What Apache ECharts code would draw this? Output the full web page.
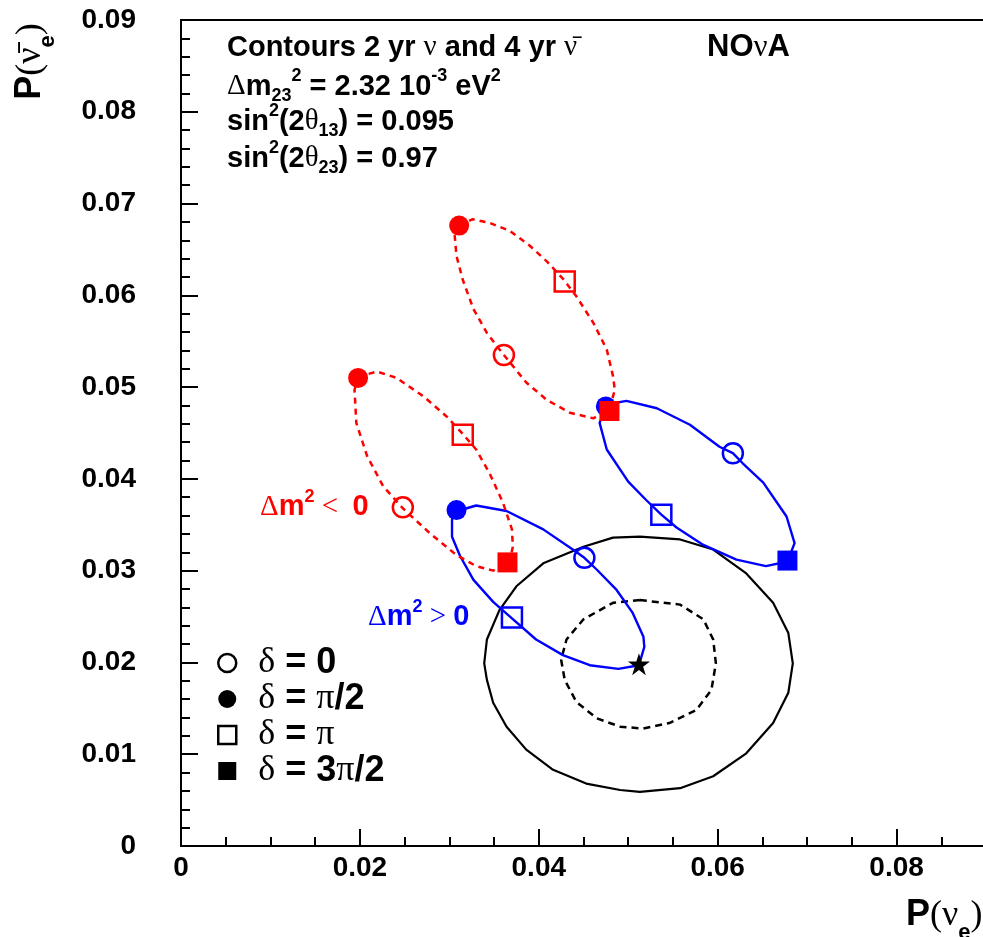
<!DOCTYPE html>
<html>
<head>
<meta charset="utf-8">
<script src="https://cdn.jsdelivr.net/npm/echarts@6.0.0/dist/echarts.min.js"></script>
<style>
  html, body { margin: 0; padding: 0; background: #fff; }
  #chart { width: 983px; height: 937px; }
</style>
</head>
<body>
<div id="chart"></div>
<script>
// closed loops (delta running 0 -> 2pi)
var redUpperX = [0.0311, 0.0326, 0.0345, 0.0368, 0.0390, 0.0409, 0.0428, 0.0442, 0.0461, 0.0476, 0.0483, 0.0485, 0.0479, 0.0461, 0.0435, 0.0409, 0.0386, 0.0361, 0.0342, 0.0327, 0.0315, 0.0308, 0.0306, 0.0311];
var redUpperY = [0.0676, 0.0683, 0.0679, 0.0670, 0.0654, 0.0637, 0.0617, 0.0599, 0.0570, 0.0541, 0.0512, 0.0497, 0.0476, 0.0466, 0.0472, 0.0486, 0.0505, 0.0535, 0.0559, 0.0585, 0.0617, 0.0643, 0.0665, 0.0676];

var redLowerX = [0.0198, 0.0219, 0.0241, 0.0271, 0.0297, 0.0315, 0.0330, 0.0345, 0.0360, 0.0370, 0.0371, 0.0367, 0.0349, 0.0330, 0.0308, 0.0278, 0.0248, 0.0226, 0.0208, 0.0196, 0.0194, 0.0198];
var redLowerY = [0.0511, 0.0517, 0.0510, 0.0490, 0.0468, 0.0449, 0.0432, 0.0406, 0.0374, 0.0345, 0.0326, 0.0308, 0.0300, 0.0305, 0.0317, 0.0341, 0.0368, 0.0392, 0.0425, 0.0461, 0.0497, 0.0511];

var blueUpperX = [0.0476, 0.0498, 0.0532, 0.0569, 0.0602, 0.0617, 0.0628, 0.0651, 0.0677, 0.0686, 0.0678, 0.0654, 0.0621, 0.0584, 0.0554, 0.0537, 0.0520, 0.0500, 0.0476, 0.0468, 0.0476];
var blueUpperY = [0.0481, 0.0485, 0.0477, 0.0459, 0.0435, 0.0428, 0.0417, 0.0396, 0.0359, 0.0330, 0.0310, 0.0305, 0.0312, 0.0328, 0.0347, 0.0361, 0.0377, 0.0397, 0.0432, 0.0461, 0.0481];

var blueLowerX = [0.0309, 0.0330, 0.0364, 0.0405, 0.0438, 0.0451, 0.0465, 0.0487, 0.0505, 0.0517, 0.0518, 0.0512, 0.0489, 0.0457, 0.0427, 0.0397, 0.0370, 0.0349, 0.0327, 0.0312, 0.0303, 0.0303, 0.0309];
var blueLowerY = [0.0365, 0.0371, 0.0365, 0.0345, 0.0323, 0.0314, 0.0301, 0.0279, 0.0254, 0.0228, 0.0217, 0.0197, 0.0193, 0.0197, 0.0208, 0.0225, 0.0248, 0.0266, 0.0290, 0.0316, 0.0337, 0.0356, 0.0365];

// sensitivity contours around the best fit point
var solidX = [0.0513, 0.0558, 0.0595, 0.0632, 0.0662, 0.0679, 0.0684, 0.0679, 0.0662, 0.0632, 0.0595, 0.0558, 0.0513, 0.0491, 0.0453, 0.0416, 0.0386, 0.0364, 0.0349, 0.0342, 0.0339, 0.0342, 0.0356, 0.0375, 0.0405, 0.0450, 0.0483, 0.0513];
var solidY = [0.0337, 0.0334, 0.0323, 0.0297, 0.0265, 0.0232, 0.0199, 0.0167, 0.0134, 0.0101, 0.0076, 0.0063, 0.0059, 0.0061, 0.0068, 0.0083, 0.0105, 0.0130, 0.0156, 0.0181, 0.0199, 0.0225, 0.0257, 0.0283, 0.0308, 0.0326, 0.0336, 0.0337];
var dashX = [0.0513, 0.0558, 0.0584, 0.0595, 0.0598, 0.0593, 0.0576, 0.0546, 0.0517, 0.0491, 0.0465, 0.0442, 0.0429, 0.0425, 0.0431, 0.0450, 0.0483, 0.0513];
var dashY = [0.0268, 0.0263, 0.0247, 0.0225, 0.0199, 0.0170, 0.0148, 0.0134, 0.0128, 0.0130, 0.0139, 0.0157, 0.0181, 0.0203, 0.0225, 0.0247, 0.0265, 0.0268];

// marker points, order: delta = 0, pi/2, pi, 3pi/2
var redUpperMX = [0.0361, 0.0311, 0.0429, 0.0479];
var redUpperMY = [0.0535, 0.0676, 0.0615, 0.0474];
var redLowerMX = [0.0248, 0.0198, 0.0315, 0.0365];
var redLowerMY = [0.0369, 0.0510, 0.0448, 0.0309];
var blueUpperMX = [0.0617, 0.0475, 0.0537, 0.0678];
var blueUpperMY = [0.0428, 0.0479, 0.0361, 0.0311];
var blueLowerMX = [0.0451, 0.0308, 0.0370];
var blueLowerMY = [0.0314, 0.0366, 0.0249];
var bestFit = [0.0512, 0.0198];

var deltaNames = ['δ = 0', 'δ = π/2', 'δ = π', 'δ = 3π/2'];
var deltaSymbols = ['circle', 'circle', 'rect', 'rect'];
var deltaFilled = [false, true, false, true];

var RED = '#ff0000', BLUE = '#0000ff';
var SANS = '"Liberation Sans", Arial, sans-serif';
var SERIF = '"Liberation Serif", "Times New Roman", serif';
var STAR = 'path://M50,0 L62,36 L100,36 L69,58 L81,95 L50,72 L19,95 L31,58 L0,36 L38,36 Z';

function rich(size, color, lh, subH, supH) {
  var small = Math.round(size * 0.62);
  return {
    b: { fontFamily: SANS, fontWeight: 'bold', fontSize: size, color: color, fill: color, lineHeight: lh },
    g: { fontFamily: SERIF, fontWeight: 'normal', fontSize: size, color: color, fill: color, lineHeight: lh },
    sup: { fontFamily: SANS, fontWeight: 'bold', fontSize: small, color: color, fill: color, lineHeight: supH, verticalAlign: 'top' },
    sub: { fontFamily: SANS, fontWeight: 'bold', fontSize: small, color: color, fill: color, lineHeight: subH, verticalAlign: 'bottom' },
    sp: { width: 17, fontSize: size, lineHeight: lh }
  };
}

function text(x, y, str, r, rot, align) {
  return {
    type: 'text', x: x, y: y, rotation: rot || 0, z: 100, silent: true,
    style: { text: str, rich: r, align: align || 'left', verticalAlign: 'middle' }
  };
}

function loop(xs, ys, color, width, dash) {
  return {
    type: 'line', data: xs.map(function (x, i) { return [x, ys[i]]; }),
    showSymbol: false, symbol: 'none', silent: true, z: 2,
    lineStyle: { color: color, width: width, type: dash || 'solid', opacity: 1 }
  };
}

function marks(xs, ys, color) {
  return {
    type: 'scatter', symbolSize: 20, silent: true, z: 5,
    data: xs.map(function (x, i) {
      return {
        value: [x, ys[i]],
        symbol: deltaSymbols[i],
        itemStyle: deltaFilled[i] ? { color: color, opacity: 1 } :
          { color: 'rgba(0,0,0,0)', borderColor: color, borderWidth: 2.5, opacity: 1 }
      };
    })
  };
}

var tickLine = { color: '#000', width: 2 };
var txt = rich(29, '#000', 38, 11, 17);
var axTitle = rich(36, '#000', 56, 6, 22);

var myChart = echarts.init(document.getElementById('chart'));
var option = {
  animation: false,
  backgroundColor: '#fff',
  grid: {
    left: 181, top: 20, right: -3, bottom: 91,
    show: true, borderColor: '#000', borderWidth: 2,
    containLabel: false, outerBoundsMode: 'none'
  },
  xAxis: [{
    type: 'value', min: 0, max: 0.09, interval: 0.02, position: 'bottom',
    axisLine: { show: true, onZero: false, lineStyle: tickLine },
    axisTick: { show: true, inside: true, length: 17, lineStyle: tickLine },
    axisLabel: { show: true, showMaxLabel: false, margin: 8, color: '#000', fontFamily: SANS, fontWeight: 'bold', fontSize: 28 },
    splitLine: { show: false }
  }, {
    type: 'value', min: 0, max: 0.09, interval: 0.005, position: 'bottom',
    axisLine: { show: false },
    axisTick: { show: true, inside: true, length: 9, lineStyle: tickLine },
    axisLabel: { show: false },
    splitLine: { show: false }
  }],
  yAxis: {
    type: 'value', min: 0, max: 0.09, interval: 0.01,
    axisLine: { show: true, onZero: false, lineStyle: tickLine },
    axisTick: { show: true, inside: true, length: 17, lineStyle: tickLine },
    minorTick: { show: true, splitNumber: 5, length: 9, lineStyle: tickLine },
    axisLabel: { margin: 45, color: '#000', fontFamily: SANS, fontWeight: 'bold', fontSize: 28 },
    splitLine: { show: false }
  },
  legend: {
    left: 217, top: 645, orient: 'vertical', padding: 0,
    itemWidth: 18, itemHeight: 18, itemGap: 0, selectedMode: false,
    data: deltaNames.map(function (n, i) {
      return {
        name: n, icon: deltaSymbols[i],
        itemStyle: deltaFilled[i] ? { color: '#000', borderWidth: 0, opacity: 1 } :
          { color: 'rgba(0,0,0,0)', borderColor: '#000', borderWidth: 2.5, opacity: 1 }
      };
    }),
    formatter: function (name) {
      return '{sp| }' + name.split(/([δπ])/).filter(Boolean).map(function (s) {
        return /[δπ]/.test(s) ? '{g|' + s + '}' : '{b|' + s + '}';
      }).join('');
    },
    textStyle: { color: '#000', rich: rich(36, '#000', 37, 10, 16) }
  },
  graphic: [
    text(227, 47.5, '{b|Contours 2 yr }{g|ν}{b| and 4 yr }{g|ν̄}', txt),
    text(707, 47.5, '{b|NO}{g|ν}{b|A}', rich(31, '#000', 38, 11, 17)),
    text(227, 86.5, '{g|Δ}{b|m}{sub|23}{sup|2}{b| = 2.32 10}{sup|-3}{b| eV}{sup|2}', txt),
    text(227, 121.5, '{b|sin}{sup|2}{b|(2}{g|θ}{sub|13}{b|) = 0.095}', txt),
    text(227, 158.5, '{b|sin}{sup|2}{b|(2}{g|θ}{sub|23}{b|) = 0.97}', txt),
    text(260, 507, '{g|Δ}{b|m}{sup|2}{g| <  }{b|0}', rich(29, RED, 38, 11, 17)),
    text(368, 617, '{g|Δ}{b|m}{sup|2}{g| > }{b|0}', rich(29, BLUE, 38, 11, 17)),
    text(906, 915.5, '{b|P}{g|(ν}{sub|e}{g|)}', axTitle),
    text(30.5, 61.5, '{b|P}{g|(ν̄}{sub|e}{g|)}', axTitle, Math.PI / 2, 'center')
  ],
  series: [
    loop(solidX, solidY, '#000', 2.2),
    loop(dashX, dashY, '#000', 2.5, [7, 5]),
    loop(blueUpperX, blueUpperY, BLUE, 2.4),
    loop(blueLowerX, blueLowerY, BLUE, 2.4),
    marks(blueUpperMX, blueUpperMY, BLUE),
    marks(blueLowerMX, blueLowerMY, BLUE),
    loop(redUpperX, redUpperY, RED, 2.5, [6, 5]),
    loop(redLowerX, redLowerY, RED, 2.5, [6, 5]),
    marks(redUpperMX, redUpperMY, RED),
    marks(redLowerMX, redLowerMY, RED),
    {
      type: 'scatter', symbol: STAR, symbolSize: 22, silent: true, z: 6,
      itemStyle: { color: '#000', opacity: 1 }, data: [bestFit]
    }
  ].concat(deltaNames.map(function (n, i) {
    return { type: 'scatter', name: n, symbol: deltaSymbols[i], data: [] };
  }))
};

myChart.setOption(option);
</script>
</body>
</html>
